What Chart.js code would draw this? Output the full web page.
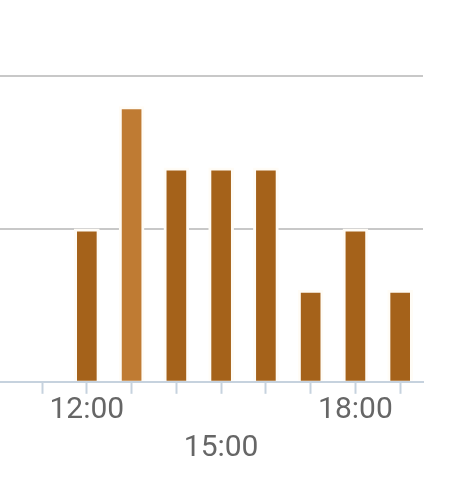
<!DOCTYPE html>
<html>
<head>
<meta charset="utf-8">
<script src="https://cdn.jsdelivr.net/npm/chart.js@4"></script>
<style>
html,body{margin:0;padding:0;background:#fff;}
#wrap{width:452px;height:478px;position:relative;}
</style>
</head>
<body>
<div id="wrap"><canvas id="c" width="452" height="478"></canvas></div>
<script>
const tickHours = [11, 12, 13, 14, 15, 16, 17, 18, 19];
const barHours = [12, 13, 14, 15, 16, 17, 18, 19];
const values = [5, 9, 7, 7, 7, 3, 5, 3];
const labelMap = {12: '12:00', 15: ['', '15:00'], 18: '18:00'};
const highlightIndex = 1;

const dark = '#a5621a';
const light = '#bf7b33';

new Chart(document.getElementById('c'), {
  type: 'bar',
  data: {
    datasets: [{
      data: barHours.map((h, i) => ({x: h, y: values[i]})),
      backgroundColor: values.map((v, i) => i === highlightIndex ? light : dark),
      borderColor: '#fffcf6',
      borderWidth: {top: 3, left: 3, right: 3, bottom: 0},
      borderSkipped: 'bottom',
      barThickness: 25
    }]
  },
  options: {
    responsive: false,
    animation: false,
    layout: {padding: {left: 0, right: 29, top: 76, bottom: 12}},
    plugins: {legend: {display: false}, tooltip: {enabled: false}},
    scales: {
      x: {
        type: 'linear',
        offset: false,
        min: 10.06,
        max: 19.51,
        afterBuildTicks: s => { s.ticks = tickHours.map(v => ({value: v})); },
        grid: {offset: false, drawOnChartArea: false, drawTicks: true, tickLength: 12, tickColor: '#c6d2de', tickWidth: 2},
        border: {display: true, color: '#c6d2de', width: 2},
        ticks: {
          autoSkip: false,
          maxRotation: 0,
          padding: -2,
          color: '#666666',
          font: {family: 'Roboto', size: 30, lineHeight: 1.27},
          callback: v => labelMap[v] || ''
        }
      },
      y: {
        min: 0,
        max: 10,
        afterBuildTicks: s => { s.ticks = [0, 5, 10].map(v => ({value: v})); },
        grid: {color: c => c.tick && c.tick.value === 0 ? 'rgba(0,0,0,0)' : '#c8c8c8', lineWidth: 2, drawTicks: false},
        border: {display: false},
        ticks: {display: false}
      }
    }
  }
});
</script>
</body>
</html>
